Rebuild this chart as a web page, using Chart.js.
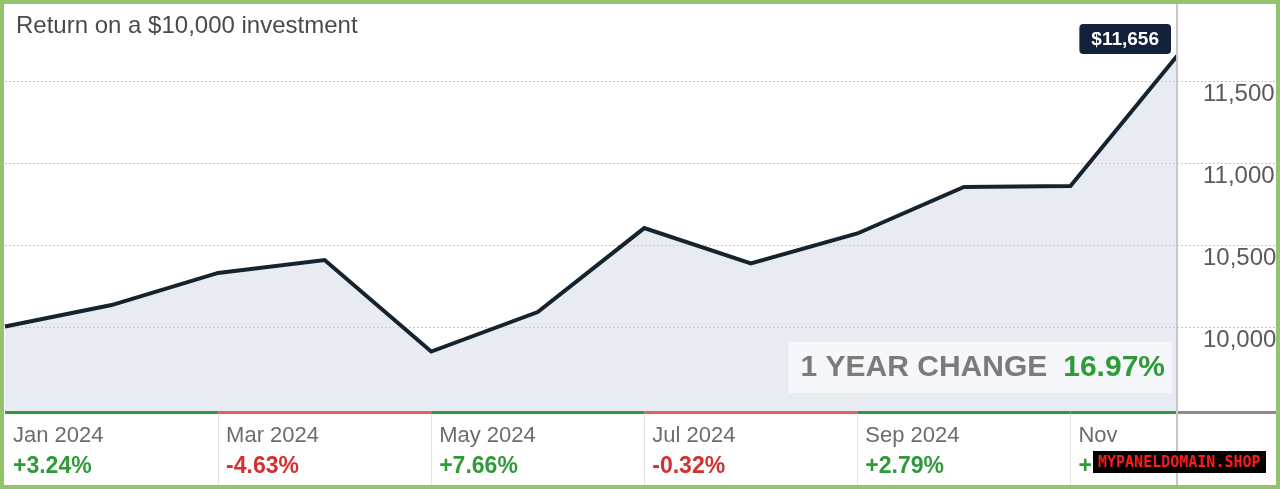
<!DOCTYPE html>
<html>
<head>
<meta charset="utf-8">
<title>Return on a $10,000 investment</title>
<script src="https://cdn.jsdelivr.net/npm/chart.js@4.4.1/dist/chart.umd.min.js"></script>
<style>
  html, body { margin: 0; padding: 0; background: #fff; overflow: hidden; }
  #wrap { position: relative; width: 1280px; height: 489px; }
  #frame { position: absolute; left: 0; top: 0; width: 1272px; height: 481px; border: 4px solid #92c46e; pointer-events: none; }
</style>
</head>
<body>
<div id="wrap">
  <canvas id="growth-chart" width="1280" height="489"></canvas>
  <div id="frame"></div>
</div>
<script>
// Chart data
const months = ['Jan 2024', 'Feb 2024', 'Mar 2024', 'Apr 2024', 'May 2024', 'Jun 2024',
                'Jul 2024', 'Aug 2024', 'Sep 2024', 'Oct 2024', 'Nov 2024', 'Dec 2024'];
const values = [10005, 10136, 10332, 10411, 9852, 10093, 10606, 10390, 10573, 10857, 10863, 11656];
const yTicks = [10000, 10500, 11000, 11500];

// Two-month periods shown in the strip under the chart
const periodLabels = ['Jan 2024', 'Mar 2024', 'May 2024', 'Jul 2024', 'Sep 2024', 'Nov'];
const periodReturns = ['+3.24%', '-4.63%', '+7.66%', '-0.32%', '+2.79%', '+7.70%'];
const periodStart = [0, 2, 4, 6, 8, 10];

const titleText = 'Return on a $10,000 investment';
const yearChange = '16.97%';
const watermark = 'MYPANELDOMAIN.SHOP';

const GREEN = '#2f9a38';
const RED = '#d43030';

// Title, period strip, change box, last value badge, axis line
const decorations = {
  id: 'decorations',
  afterDatasetsDraw(chart) {
    const { ctx, chartArea } = chart;
    ctx.save();

    // Title
    ctx.fillStyle = '#4a4a4a';
    ctx.font = '24px "Liberation Sans", Arial, sans-serif';
    ctx.textBaseline = 'middle';
    ctx.fillText(titleText, 16, 26);

    // 1 YEAR CHANGE box
    ctx.font = 'bold 30px "Liberation Sans", Arial, sans-serif';
    const right = chartArea.right - 12;
    const wPct = ctx.measureText(yearChange).width;
    const label = '1 YEAR CHANGE';
    const wLab = ctx.measureText(label).width;
    const boxLeft = right - wPct - 16 - wLab - 12;
    ctx.fillStyle = 'rgba(248,249,251,0.85)';
    ctx.fillRect(boxLeft, 342, chartArea.right - 5 - boxLeft, 51);
    ctx.fillStyle = '#7b7b7b';
    ctx.textAlign = 'left';
    ctx.fillText(label, boxLeft + 12, 368);
    ctx.fillStyle = GREEN;
    ctx.fillText(yearChange, right - wPct, 368);

    // Badge with the last value
    const meta = chart.getDatasetMeta(0);
    const last = meta.data[meta.data.length - 1];
    const txt = '$' + values[values.length - 1].toLocaleString('en-US');
    ctx.font = 'bold 19px "Liberation Sans", Arial, sans-serif';
    const bw = ctx.measureText(txt).width + 24;
    const bx = last.x - 6 - bw, by = last.y - 32;
    ctx.fillStyle = '#14213a';
    ctx.beginPath();
    ctx.roundRect(bx, by, bw, 30, 4);
    ctx.fill();
    ctx.fillStyle = '#ffffff';
    ctx.textAlign = 'center';
    ctx.fillText(txt, bx + bw / 2, by + 16);
    ctx.restore();
  },
  afterDraw(chart) {
    const { ctx, chartArea, width, height } = chart;
    const x = chart.scales.x;
    ctx.save();

    // Period strip
    const top = chartArea.bottom;
    periodStart.forEach((s, i) => {
      const x0 = x.getPixelForValue(s);
      const end = i + 1 < periodStart.length ? periodStart[i + 1] : months.length - 1;
      const x1 = x.getPixelForValue(end);
      const up = periodReturns[i].startsWith('+');
      ctx.fillStyle = up ? GREEN : '#e06262';
      ctx.fillRect(x0, top - 1, x1 - x0, 3);
      if (i > 0) {
        ctx.fillStyle = '#e2e2e2';
        ctx.fillRect(Math.round(x0), top + 2, 1, height - top);
      }
      ctx.textBaseline = 'middle';
      ctx.textAlign = 'left';
      ctx.fillStyle = '#6c6c6c';
      ctx.font = '22px "Liberation Sans", Arial, sans-serif';
      ctx.fillText(periodLabels[i], x0 + 8, 436);
      ctx.fillStyle = up ? GREEN : RED;
      ctx.font = 'bold 23px "Liberation Sans", Arial, sans-serif';
      ctx.fillText(periodReturns[i], x0 + 8, 467);
    });
    ctx.fillStyle = '#8a8a8a';
    ctx.fillRect(chartArea.right, top - 1, width - chartArea.right, 3);

    // Vertical axis line
    ctx.fillStyle = '#c6c6c6';
    ctx.fillRect(chartArea.right - 1, 0, 2, height);

    // Watermark
    ctx.fillStyle = '#000000';
    ctx.fillRect(1093, 451, 173, 22);
    ctx.fillStyle = '#ff1a1a';
    ctx.font = 'bold 15px "DejaVu Sans Mono", monospace';
    ctx.textAlign = 'left';
    ctx.textBaseline = 'middle';
    ctx.fillText(watermark, 1098, 463);
    ctx.restore();
  }
};

const ctx = document.getElementById('growth-chart');

new Chart(ctx, {
  type: 'line',
  data: {
    labels: months,
    datasets: [{
      data: values,
      borderColor: '#15232f',
      borderWidth: 4,
      backgroundColor: 'rgba(209, 215, 227, 0.5)',
      fill: 'start',
      tension: 0,
      pointRadius: 0,
      borderJoinStyle: 'miter'
    }]
  },
  options: {
    responsive: false,
    animation: false,
    devicePixelRatio: 1,
    layout: {
      padding: { left: 5, top: 5, right: 0, bottom: 77 }
    },
    plugins: {
      legend: { display: false },
      tooltip: { enabled: false }
    },
    scales: {
      x: {
        display: false
      },
      y: {
        position: 'right',
        min: 9483,
        max: 11968,
        afterBuildTicks: (scale) => {
          scale.ticks = yTicks.map(v => ({ value: v }));
        },
        afterFit: (scale) => {
          scale.width = 103;
        },
        border: { display: false, dash: [2, 2] },
        grid: {
          color: '#c4c4c4',
          lineWidth: 1,
          tickLength: 100,
          tickColor: '#c4c4c4',
          tickBorderDash: [2, 2]
        },
        ticks: {
          padding: -74,
          labelOffset: 13,
          color: '#5a5a5a',
          font: { family: '"Liberation Sans", Arial, sans-serif', size: 24 },
          callback: (v) => v.toLocaleString('en-US')
        }
      }
    }
  },
  plugins: [decorations]
});
</script>
</body>
</html>
